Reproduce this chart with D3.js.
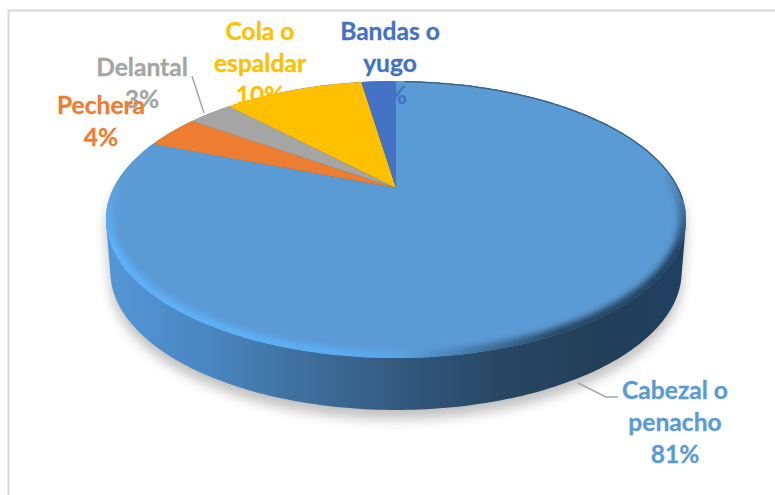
<!DOCTYPE html>
<html>
<head>
<meta charset="utf-8">
<script src="https://cdn.jsdelivr.net/npm/d3@7"></script>
<style>
    body { margin: 0; background: #fff; }
    text { font-family: Lato, "Open Sans", sans-serif; font-weight: 700; font-size: 24.6px; text-anchor: middle; stroke-width: 0.3px; }
</style>
</head>
<body>
<div class="canvas"></div>
<script>
const categories = ["Cabezal o penacho", "Pechera", "Delantal", "Cola o espaldar", "Bandas o yugo"];
// slice shares, the labels show them rounded
const shares = [80.9, 3.9, 3.1, 9.7, 2.4];
const labelLines = [
    ["Cabezal o", "penacho", "81%"],
    ["Pechera", "4%"],
    ["Delantal", "3%"],
    ["Cola o", "espaldar", "10%"],
    ["Bandas o", "yugo", "2%"],
];
const colors = ["#5B9BD5", "#ED7D31", "#A5A5A5", "#FFC000", "#4472C4"];

// label anchor (center x, first baseline), same order as categories
const labelPos = [[675, 399], [101, 114], [142, 76], [260, 40], [390, 40]];
const lineHeight = 32;

const width = 775;
const height = 495;
const deg = Math.PI / 180;

// flat disc seen in perspective: apex of the pie sits above the ellipse middle
const disc = { cx: 396, cy: 188, a: 282.4, b: 131.3, k: 0.2275, depth: 52 };

function project(angle, shrink = 1, drop = 0) {
    const u = Math.sin(angle);
    const v = Math.cos(angle);
    const w = 1 + disc.k * v;
    return [
        disc.cx + (shrink * disc.a * u) / w,
        disc.cy - (disc.b * v) / w + drop,
    ];
}

function rim(a0, a1, shrink, drop) {
    const step = 1 * deg;
    const pts = d3.range(a0, a1, step).map((a) => project(a, shrink, drop));
    pts.push(project(a1, shrink, drop));
    return pts;
}

const lineGen = d3.line();
const color = d3.scaleOrdinal().domain(categories).range(colors);

const svg = d3
    .select(".canvas")
    .append("svg")
    .attr("width", width)
    .attr("height", height)
    .style("display", "block");

const defs = svg.append("defs");

function blur(id, dev) {
    defs.append("filter")
        .attr("id", id)
        .attr("x", "-20%").attr("y", "-20%")
        .attr("width", "140%").attr("height", "140%")
        .append("feGaussianBlur")
        .attr("stdDeviation", dev);
}
blur("shadowBlur", 6);
blur("bevelBlur", 3);

function hGradient(id, stops) {
    const g = defs.append("linearGradient")
        .attr("id", id)
        .attr("gradientUnits", "userSpaceOnUse")
        .attr("x1", 106).attr("x2", 686)
        .attr("y1", 0).attr("y2", 0);
    stops.forEach((s) => g.append("stop").attr("offset", s[0]).attr("stop-color", s[1]));
}
hGradient("wallFill", [
    [0, "#5596d6"], [0.17, "#4a87c2"], [0.33, "#3f719f"], [0.5, "#34597f"],
    [0.68, "#274763"], [0.85, "#223f59"], [1, "#1f4060"],
]);
hGradient("bevelLower", [
    [0, "#5fb2fa"], [0.35, "#5cafF5"], [0.5, "#5aa6e8"], [0.65, "#41729f"],
    [0.78, "#27465f"], [1, "#23435f"],
]);

// fades the wide bevel in from the widest part of the disc downwards
const fade = defs.append("linearGradient")
    .attr("id", "bevelFade")
    .attr("gradientUnits", "userSpaceOnUse")
    .attr("x1", 0).attr("x2", 0)
    .attr("y1", 170).attr("y2", 250);
fade.append("stop").attr("offset", 0).attr("stop-color", "#000");
fade.append("stop").attr("offset", 1).attr("stop-color", "#fff");
defs.append("mask")
    .attr("id", "bevelMask")
    .attr("maskUnits", "userSpaceOnUse")
    .attr("x", 0).attr("y", 0)
    .attr("width", width).attr("height", height)
    .append("rect")
    .attr("width", width)
    .attr("height", height)
    .attr("fill", "url(#bevelFade)");

// frame: only the top and left sides show
svg.append("path")
    .attr("d", `M8.5,${height}V10.5H${width}`)
    .attr("fill", "none")
    .attr("stroke", "#d9d9d9")
    .attr("stroke-width", 2);

// silhouette of the disc with its side wall
const hull = d3.polygonHull(rim(0, 360 * deg, 1, 0).concat(rim(0, 360 * deg, 0.985, disc.depth)));
const hullPath = lineGen(hull) + "Z";

svg.append("path")
    .attr("d", hullPath)
    .attr("fill", "#8f8f8f")
    .attr("opacity", 0.55)
    .attr("transform", "translate(0,9)")
    .attr("filter", "url(#shadowBlur)");

svg.append("path").attr("d", hullPath).attr("fill", "url(#wallFill)");

// slices
const pie = d3.pie().sort(null).value((d) => d)(shares);

svg.append("g")
    .selectAll("path")
    .data(pie)
    .enter()
    .append("path")
    .attr("d", (d) => {
        const pts = [[disc.cx, disc.cy]].concat(rim(d.startAngle, d.endAngle, 1, 0));
        return lineGen(pts) + "Z";
    })
    .attr("fill", (d, i) => color(categories[i]));

// bevel, only visible inside the big slice
defs.append("clipPath")
    .attr("id", "faceClip")
    .append("path")
    .attr("d", lineGen(rim(0, 360 * deg, 1, 0)) + "Z");

const bevel = svg.append("g").attr("clip-path", "url(#faceClip)");

const firstEnd = pie[0].endAngle;

bevel.append("g")
    .attr("mask", "url(#bevelMask)")
    .append("path")
    .attr("d", lineGen(rim(70 * deg, firstEnd, 1, 0)))
    .attr("fill", "none")
    .attr("stroke", "url(#bevelLower)")
    .attr("stroke-width", 14)
    .attr("filter", "url(#bevelBlur)");

bevel.append("path")
    .attr("d", lineGen(rim(2 * deg, 95 * deg, 1, 0)))
    .attr("fill", "none")
    .attr("stroke", "#28486a")
    .attr("stroke-opacity", 0.7)
    .attr("stroke-width", 2.5);

// leader lines
const leaders = [
    [[578, 383], [606, 397], [618, 397]],
    [[192, 76], [204, 113]],
];
svg.append("g")
    .selectAll("path")
    .data(leaders)
    .enter()
    .append("path")
    .attr("d", (d) => lineGen(d))
    .attr("fill", "none")
    .attr("stroke", "#a6a6a6")
    .attr("stroke-width", 1.5);

// labels, gray one first so Pechera stays on top of it
const drawOrder = [0, 2, 1, 3, 4];
svg.append("g")
    .selectAll("text")
    .data(drawOrder)
    .enter()
    .append("text")
    .attr("fill", (i) => color(categories[i]))
    .attr("stroke", (i) => color(categories[i]))
    .attr("x", (i) => labelPos[i][0])
    .attr("y", (i) => labelPos[i][1])
    .each(function (i) {
        d3.select(this)
            .selectAll("tspan")
            .data(labelLines[i])
            .enter()
            .append("tspan")
            .attr("x", labelPos[i][0])
            .attr("y", (d, j) => labelPos[i][1] + j * lineHeight)
            .text((d) => d);
    });
</script>
</body>
</html>
